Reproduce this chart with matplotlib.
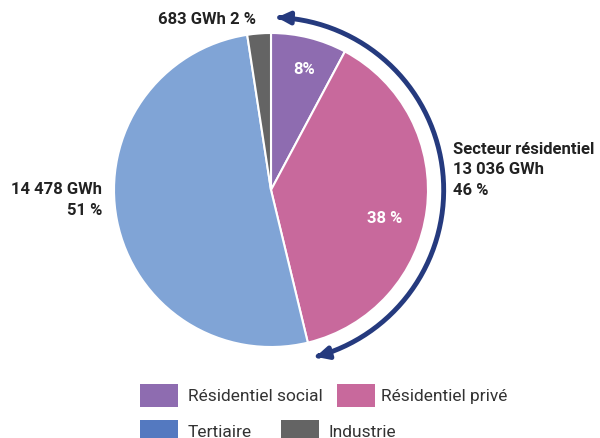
import numpy as np
import matplotlib.pyplot as plt
from matplotlib.patches import FancyArrowPatch, Rectangle
from matplotlib.path import Path

plt.rcParams['font.family'] = ['Roboto', 'DejaVu Sans']

# Data (GWh)
categories = ['Résidentiel social', 'Résidentiel privé', 'Tertiaire', 'Industrie']
values = [2200, 10836, 14478, 683]
pie_colors = ['#8e6cb0', '#c8699c', '#80a4d6', '#646464']
legend_colors = ['#8e6cb0', '#c8699c', '#5479c0', '#646464']
inner_labels = ['8%', '38 %', '', '']

fig = plt.figure(figsize=(6, 4.39), dpi=100)
ax = fig.add_axes([0, 0, 1, 1])
R = 157.0
cx, cy = 271, 191


def px(x, y):
    return (x - cx) / R, (cy - y) / R


wedges, _ = ax.pie(values, colors=pie_colors, startangle=90, counterclock=False,
                   radius=1, wedgeprops=dict(edgecolor='white', linewidth=1.5))
ax.set_xlim(-cx / R, (600 - cx) / R)
ax.set_ylim(-(439 - cy) / R, cy / R)
ax.set_aspect('equal')
ax.axis('off')

# percentage labels inside slices
bold = dict(weight='bold', fontsize=12)
ax.text(*px(304, 70), inner_labels[0], color='white', ha='center', va='center', **bold)
ax.text(*px(385, 219), inner_labels[1], color='white', ha='center', va='center', **bold)

# outer labels
ax.text(*px(256, 20), '683 GWh 2 %', color='#222222', ha='right', va='center', **bold)
ax.text(*px(102, 200), '14 478 GWh\n51 %', color='#222222', ha='right', va='center',
        linespacing=1.45, **bold)
ax.text(*px(453, 170), 'Secteur résidentiel\n13 036 GWh\n46 %', color='#222222',
        ha='left', va='center', linespacing=1.45, **bold)

# arc arrow around residential sector
rr = 1.1
th = np.radians(np.linspace(88, -75, 200))
arc = Path(np.column_stack([rr * np.cos(th), rr * np.sin(th)]))
arrow = FancyArrowPatch(path=arc, arrowstyle='<|-|>', mutation_scale=18,
                        color='#253a7e', linewidth=3.5)
ax.add_patch(arrow)

# legend
leg_items = [(0, 140, 385, 188), (1, 337, 385, 381), (2, 140, 421, 188), (3, 281, 421, 328)]
for i, bx, by, tx in leg_items:
    x0, y0 = px(bx, by + 23)
    ax.add_patch(Rectangle((x0, y0), 38 / R, 23 / R, facecolor=legend_colors[i],
                           edgecolor='none', clip_on=False))
    ax.text(*px(tx, by + 12), categories[i], ha='left', va='center',
            fontsize=12.5, color='#333333')

fig.savefig('out.png', dpi=100)
